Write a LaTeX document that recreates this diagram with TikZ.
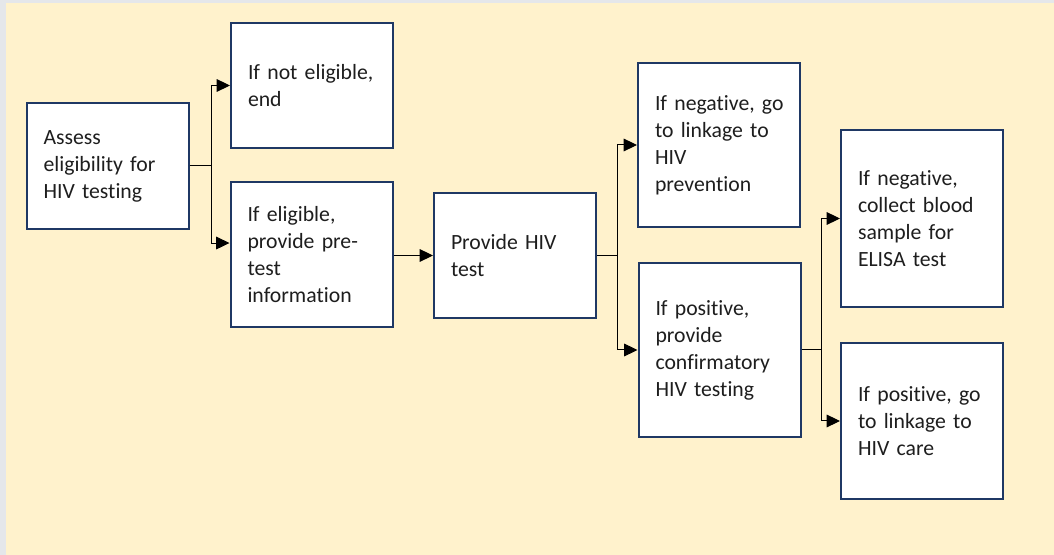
\documentclass[tikz,border=0pt]{standalone}
\usepackage{fontspec}
\setmainfont{Carlito}[Ligatures=NoCommon]
\usetikzlibrary{arrows.meta}
\definecolor{pagegrey}{RGB}{229,231,234}
\definecolor{paper}{RGB}{255,242,204}
\definecolor{navy}{RGB}{31,56,100}
\definecolor{ink}{RGB}{30,30,30}
\tikzset{
  stepbox/.style={draw=navy,line width=1.5pt,fill=white,align=left,text=ink,
    text width=96pt,inner xsep=12.75pt,inner ysep=0pt,
    font=\fontsize{16.3}{20.25}\selectfont},
  arr/.style={line width=0.75pt,-{Triangle[length=10pt,width=9.5pt]}},
  link/.style={line width=0.75pt}
}

\begin{document}
\begin{tikzpicture}[x=0.75pt,y=-0.75pt]
  \fill[pagegrey] (0,0) rectangle (1054,555);
  \fill[paper] (6,3) rectangle (1054,555);
  \node[stepbox,minimum height=94.5pt] (assess) at (107.5,166){Assess\\eligibility for\\HIV testing};
  \node[stepbox,minimum height=93.75pt] (noteli) at (312,85.5){If not eligible,\\end};
  \node[stepbox,minimum height=108.75pt] (eli) at (311.5,254.5){If eligible,\\provide pre-\\test\\information};
  \node[stepbox,minimum height=93.75pt] (test) at (515,255.5){Provide HIV\\test};
  \node[stepbox,minimum height=123pt] (neg) at (719,145){\mbox{If negative, go}\\to linkage to\\HIV\\prevention};
  \node[stepbox,minimum height=130.5pt] (pos) at (719.5,350){If positive,\\provide\\confirmatory\\HIV testing};
  \node[stepbox,minimum height=132.75pt] (elisa) at (922,218.5){If negative,\\collect blood\\sample for\\ELISA test};
  \node[stepbox,minimum height=117pt] (care) at (922,421){\mbox{If positive, go}\\to linkage to\\HIV care};
  \coordinate (j1) at ([xshift=16.5pt]assess.east);
  \coordinate (j2) at ([xshift=15pt]test.east);
  \coordinate (j3) at ([xshift=15pt]pos.east);
  \draw[link] (assess.east) -- (j1);
  \draw[arr] (j1) |- (noteli.west);
  \draw[arr] (j1) |- ([yshift=8.6pt]eli.west);
  \draw[arr] (test.west -| eli.east) -- (test.west);
  \draw[link] (test.east) -- (j2);
  \draw[arr] (j2) |- (neg.west);
  \draw[arr] (j2) |- (pos.west);
  \draw[link] (pos.east) -- (j3);
  \draw[arr] (j3) |- (elisa.west);
  \draw[arr] (j3) |- (care.west);
\end{tikzpicture}
\end{document}
